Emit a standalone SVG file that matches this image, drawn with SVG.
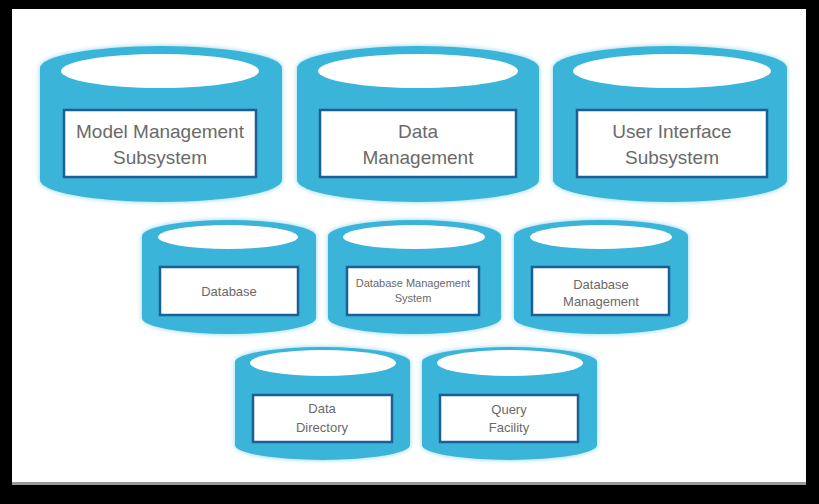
<svg xmlns="http://www.w3.org/2000/svg" width="819" height="504" viewBox="0 0 819 504">
<defs>
<style>
.cyl{fill:#3ab4d9;filter:url(#glow)}
.hole{fill:#ffffff}
.lbl{fill:#ffffff;stroke:#1d5e95;stroke-width:2.5}
.t{font-family:"Liberation Sans",Arial,sans-serif;fill:#6a6a6a;text-anchor:middle}
.t1{font-size:19px}
.t2{font-size:13px}
.t3{font-size:11px}
</style>
<filter id="glow" x="-5%" y="-10%" width="110%" height="120%">
<feGaussianBlur in="SourceGraphic" stdDeviation="2.5" result="b"/>
<feComponentTransfer in="b" result="bb"><feFuncA type="linear" slope="0.6"/></feComponentTransfer>
<feMerge><feMergeNode in="bb"/><feMergeNode in="SourceGraphic"/></feMerge>
</filter>
</defs>
<rect x="0" y="0" width="819" height="504" fill="#000000"/>
<rect x="12" y="9" width="794" height="476" fill="#ffffff"/>
<rect x="12" y="482" width="794" height="3" fill="#9a9a9a"/>

<g id="connectors"/>

<g id="model-management">
<path class="cyl" d="M40,68 A121,22 0 0 1 282,68 V180 A121,22 0 0 1 40,180 Z"/>
<ellipse class="hole" cx="160" cy="71" rx="99" ry="17"/>
<rect class="lbl" x="64" y="110" width="192" height="67"/>
<text class="t t1" x="160" y="138">Model Management</text>
<text class="t t1" x="160" y="164">Subsystem</text>
</g>

<g id="data-management">
<path class="cyl" d="M297,68 A121,22 0 0 1 539,68 V180 A121,22 0 0 1 297,180 Z"/>
<ellipse class="hole" cx="418" cy="71" rx="100" ry="17"/>
<rect class="lbl" x="320" y="110" width="196" height="67"/>
<text class="t t1" x="418" y="138">Data</text>
<text class="t t1" x="418" y="164">Management</text>
</g>

<g id="user-interface">
<path class="cyl" d="M553,68 A117,22 0 0 1 787,68 V180 A117,22 0 0 1 553,180 Z"/>
<ellipse class="hole" cx="672" cy="71" rx="99" ry="17"/>
<rect class="lbl" x="577" y="110" width="190" height="67"/>
<text class="t t1" x="672" y="138">User Interface</text>
<text class="t t1" x="672" y="164">Subsystem</text>
</g>

<g id="database">
<path class="cyl" d="M142,236 A87,16 0 0 1 316,236 V318 A87,16 0 0 1 142,318 Z"/>
<ellipse class="hole" cx="228" cy="237" rx="70" ry="12"/>
<rect class="lbl" x="160" y="267" width="138" height="48"/>
<text class="t t2" x="229" y="296">Database</text>
</g>

<g id="dbms">
<path class="cyl" d="M328,236 A86.5,16 0 0 1 501,236 V318 A86.5,16 0 0 1 328,318 Z"/>
<ellipse class="hole" cx="414" cy="237" rx="71" ry="12"/>
<rect class="lbl" x="347" y="267" width="132" height="48"/>
<text class="t t3" x="413" y="287">Database Management</text>
<text class="t t3" x="413" y="302">System</text>
</g>

<g id="database-management">
<path class="cyl" d="M514,236 A87,16 0 0 1 688,236 V318 A87,16 0 0 1 514,318 Z"/>
<ellipse class="hole" cx="601" cy="237" rx="71" ry="12"/>
<rect class="lbl" x="532" y="267" width="137" height="48"/>
<text class="t t2" x="601" y="289">Database</text>
<text class="t t2" x="601" y="306">Management</text>
</g>

<g id="data-directory">
<path class="cyl" d="M235,362 A87.5,15 0 0 1 410,362 V445 A87.5,15 0 0 1 235,445 Z"/>
<ellipse class="hole" cx="323" cy="363" rx="73" ry="13"/>
<rect class="lbl" x="253" y="395" width="139" height="47"/>
<text class="t t2" x="322" y="413">Data</text>
<text class="t t2" x="322" y="432">Directory</text>
</g>

<g id="query-facility">
<path class="cyl" d="M422,362 A87.5,15 0 0 1 597,362 V445 A87.5,15 0 0 1 422,445 Z"/>
<ellipse class="hole" cx="510" cy="363" rx="73" ry="13"/>
<rect class="lbl" x="440" y="395" width="138" height="47"/>
<text class="t t2" x="509" y="414">Query</text>
<text class="t t2" x="509" y="432">Facility</text>
</g>
</svg>
